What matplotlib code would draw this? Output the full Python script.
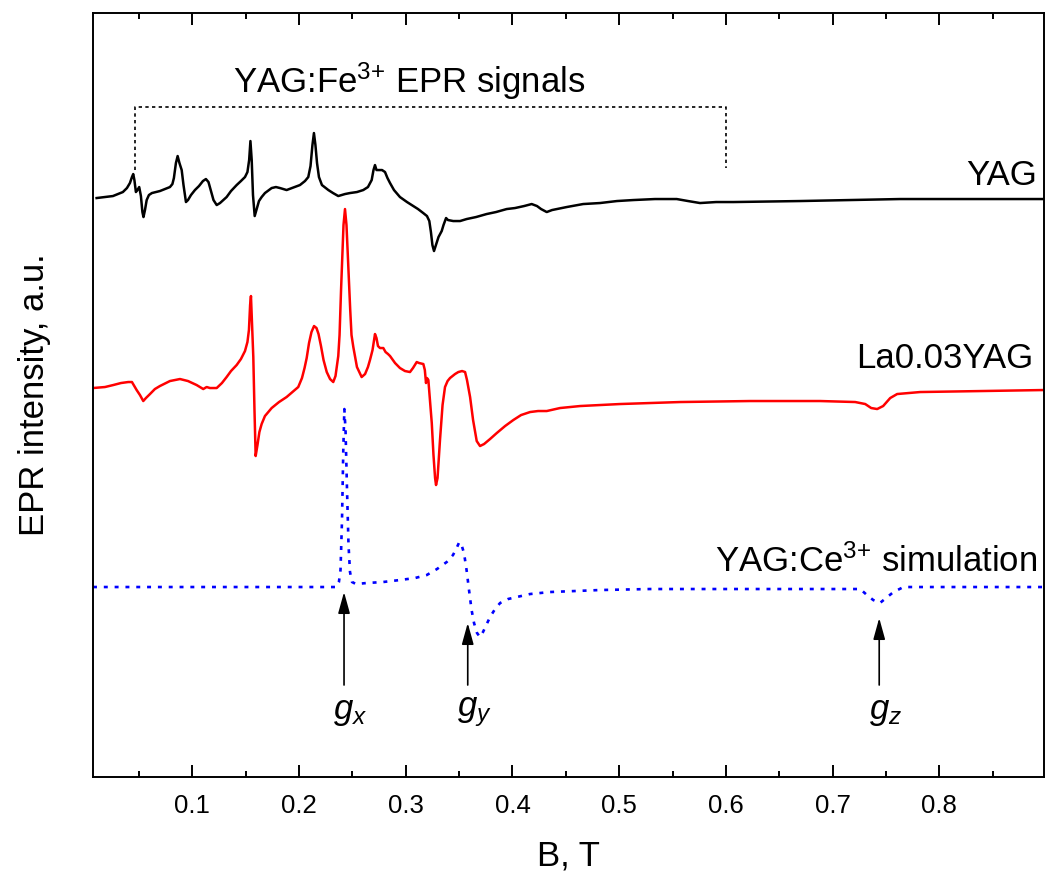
import matplotlib
matplotlib.use("Agg")
import matplotlib.pyplot as plt
from matplotlib.ticker import MultipleLocator

plt.rcParams["font.family"] = ["Liberation Sans", "DejaVu Sans"]
plt.rcParams["mathtext.fontset"] = "custom"
plt.rcParams["mathtext.rm"] = "Liberation Sans"
plt.rcParams["mathtext.it"] = "Liberation Sans:italic"

# magnetic field, T  /  EPR intensity, a.u. (traces already stacked)
b_yag = [0.0104, 0.0182, 0.0257, 0.0304, 0.0350, 0.0388, 0.0416, 0.0435, 0.0447, 0.0458,
         0.0472, 0.0486, 0.0503, 0.0519, 0.0533, 0.0543, 0.0557, 0.0573, 0.0594, 0.0622,
         0.0660, 0.0697, 0.0744, 0.0791, 0.0814, 0.0828, 0.0847, 0.0863, 0.0880, 0.0901,
         0.0918, 0.0941, 0.0960, 0.0988, 0.1025, 0.1063, 0.1100, 0.1128, 0.1152, 0.1175,
         0.1199, 0.1229, 0.1260, 0.1322, 0.1363, 0.1416, 0.1456, 0.1494, 0.1517, 0.1533,
         0.1545, 0.1557, 0.1569, 0.1585, 0.1601, 0.1625, 0.1650, 0.1681, 0.1744, 0.1784,
         0.1822, 0.1884, 0.1934, 0.2009, 0.2056, 0.2087, 0.2108, 0.2126, 0.2140, 0.2154,
         0.2169, 0.2187, 0.2215, 0.2275, 0.2319, 0.2368, 0.2431, 0.2478, 0.2543, 0.2602,
         0.2646, 0.2681, 0.2698, 0.2712, 0.2726, 0.2743, 0.2778, 0.2806, 0.2829, 0.2853,
         0.2890, 0.2946, 0.3012, 0.3071, 0.3115, 0.3164, 0.3199, 0.3221, 0.3236, 0.3250,
         0.3265, 0.3283, 0.3307, 0.3337, 0.3354, 0.3378, 0.3396, 0.3445, 0.3509, 0.3571,
         0.3659, 0.3758, 0.3846, 0.3946, 0.4024, 0.4109, 0.4180, 0.4230, 0.4268, 0.4321,
         0.4371, 0.4508, 0.4662, 0.4820, 0.4979, 0.5133, 0.5335, 0.5539, 0.5645, 0.5757,
         0.5908, 0.6070, 0.6694, 0.7631, 0.8980]
i_yag = [579, 580, 581, 583, 585, 589, 594, 600, 603, 597,
         585, 587, 590, 581, 565, 560, 567, 577, 582, 584,
         585, 586, 588, 590, 593, 599, 614, 621, 614, 607,
         592, 575, 577, 582, 587, 591, 596, 598, 595, 586,
         577, 572, 574, 580, 586, 592, 596, 600, 605, 617,
         636, 617, 582, 561, 567, 576, 580, 584, 589, 590,
         589, 587, 589, 592, 596, 600, 611, 632, 644, 632,
         614, 600, 592, 587, 584, 581, 583, 584, 585, 587,
         590, 597, 607, 612, 607, 607, 607, 605, 599, 594,
         587, 580, 575, 571, 568, 564, 561, 556, 545, 532,
         526, 532, 540, 546, 552, 559, 557, 556, 556, 558,
         560, 563, 565, 568, 569, 571, 573, 571, 568, 565,
         567, 570, 573, 574, 576, 577, 578, 578, 576, 574,
         575, 575, 576, 578, 578]

b_la = [0.0070, 0.0182, 0.0260, 0.0332, 0.0400, 0.0435, 0.0479, 0.0510, 0.0541, 0.0566,
        0.0604, 0.0650, 0.0697, 0.0791, 0.0885, 0.0960, 0.1041, 0.1103, 0.1135, 0.1166,
        0.1229, 0.1278, 0.1322, 0.1363, 0.1416, 0.1456, 0.1494, 0.1517, 0.1531, 0.1542,
        0.1550, 0.1559, 0.1572, 0.1583, 0.1594, 0.1611, 0.1629, 0.1650, 0.1681, 0.1744,
        0.1813, 0.1884, 0.1939, 0.1993, 0.2028, 0.2052, 0.2072, 0.2094, 0.2117, 0.2141,
        0.2164, 0.2183, 0.2206, 0.2230, 0.2260, 0.2291, 0.2321, 0.2342, 0.2356, 0.2368,
        0.2380, 0.2394, 0.2406, 0.2417, 0.2431, 0.2445, 0.2455, 0.2467, 0.2480, 0.2492,
        0.2509, 0.2543, 0.2587, 0.2619, 0.2646, 0.2665, 0.2689, 0.2703, 0.2712, 0.2726,
        0.2740, 0.2759, 0.2790, 0.2811, 0.2834, 0.2853, 0.2900, 0.2946, 0.2993, 0.3040,
        0.3068, 0.3103, 0.3125, 0.3165, 0.3179, 0.3190, 0.3199, 0.3212, 0.3223, 0.3244,
        0.3260, 0.3275, 0.3284, 0.3298, 0.3321, 0.3345, 0.3368, 0.3392, 0.3415, 0.3462,
        0.3493, 0.3528, 0.3556, 0.3574, 0.3603, 0.3631, 0.3665, 0.3696, 0.3734, 0.3790,
        0.3853, 0.3931, 0.4008, 0.4081, 0.4165, 0.4240, 0.4321, 0.4446, 0.4634, 0.5008,
        0.5571, 0.6227, 0.6883, 0.7211, 0.7305, 0.7361, 0.7417, 0.7473, 0.7539, 0.7604,
        0.7820, 0.8382, 0.8980]
i_la = [389, 390, 392, 394, 395, 395, 387, 382, 376, 379,
        383, 388, 391, 396, 398, 396, 392, 388, 390, 389,
        389, 394, 400, 406, 412, 418, 426, 435, 447, 472,
        481, 457, 420, 367, 321, 332, 345, 353, 361, 369,
        375, 380, 385, 390, 399, 409, 419, 434, 445, 451,
        449, 443, 431, 417, 405, 398, 395, 401, 412, 421,
        442, 487, 522, 552, 568, 552, 527, 497, 467, 442,
        430, 410, 400, 403, 410, 417, 427, 437, 443, 439,
        431, 429, 429, 425, 423, 421, 414, 409, 406, 405,
        409, 415, 414, 413, 407, 394, 399, 397, 382, 354,
        322, 299, 292, 299, 337, 372, 390, 396, 399, 403,
        405, 406, 405, 397, 380, 357, 336, 331, 333, 338,
        344, 351, 357, 362, 365, 366, 366, 369, 371, 373,
        375, 376, 376, 375, 373, 369, 368, 371, 379, 383,
        385, 386, 387]

b_sim = [0.0070, 0.2353, 0.2374, 0.2389, 0.2403, 0.2415, 0.2425, 0.2436, 0.2450, 0.2464,
         0.2478, 0.2497, 0.2534, 0.2634, 0.2787, 0.2946, 0.3087, 0.3197, 0.3293, 0.3384,
         0.3443, 0.3481, 0.3502, 0.3523, 0.3546, 0.3570, 0.3593, 0.3617, 0.3640, 0.3668,
         0.3696, 0.3724, 0.3759, 0.3790, 0.3837, 0.3884, 0.3959, 0.4040, 0.4165, 0.4352,
         0.4821, 0.5289, 0.7258, 0.7321, 0.7380, 0.7443, 0.7500, 0.7570, 0.7664, 0.8980]
i_sim = [190, 190, 195, 207, 257, 327, 368, 347, 287, 232,
         205, 195, 193, 194, 195, 197, 199, 202, 208, 215,
         222, 230, 235, 232, 224, 207, 187, 167, 154, 144,
         140, 145, 153, 160, 168, 174, 178, 180, 183, 185,
         187, 188, 188, 182, 177, 174, 179, 185, 190, 190]

g_labels = ["$g_x$", "$g_y$", "$g_z$"]
g_field = [0.2422, 0.3581, 0.7436]
g_tip = [185, 154, 159]

fig = plt.figure(figsize=(10.46, 8.76), dpi=100)
ax = fig.add_axes([0.0889, 0.1130, 0.9092, 0.8721])

ax.plot(b_yag, i_yag, color="black", lw=1.8)
ax.plot(b_la, i_la, color="red", lw=1.8)
ax.plot(b_sim, i_sim, color="blue", lw=1.9, linestyle=(0, (1.5, 2.6)))

# bracket over the Fe3+ lines
ax.plot([0.0463, 0.0463, 0.600, 0.600], [607, 670, 670, 609],
        color="black", lw=1.2, linestyle=(0, (2, 2)))
ax.text(0.138, 684, r"YAG:Fe$^{\text{3+}}$ EPR signals", fontsize=25, ha="left", va="baseline")

ax.text(0.8914, 592, "YAG", fontsize=25, ha="right", va="baseline")
ax.text(0.8880, 409, "La0.03YAG", fontsize=25, ha="right", va="baseline")
ax.text(0.8920, 205, r"YAG:Ce$^{\text{3+}}$ simulation", fontsize=25, ha="right", va="baseline")

for lab, bx, tip in zip(g_labels, g_field, g_tip):
    ax.annotate("", xy=(bx, tip), xytext=(bx, 92),
                arrowprops=dict(arrowstyle="-|>,head_length=0.65,head_width=0.18",
                                color="black", lw=1.2, shrinkA=0, shrinkB=0,
                                mutation_scale=20))
    ax.text(bx + 0.006, 82, lab, fontsize=25, ha="center", va="top")

ax.set_xlim(0.007, 0.898)
ax.set_ylim(0, 764)
ax.xaxis.set_major_locator(MultipleLocator(0.1))
ax.xaxis.set_minor_locator(MultipleLocator(0.05))
ax.set_yticks([])
ax.tick_params(axis="x", which="both", direction="in", top=True, labelsize=18.5, pad=12, width=1.4)
ax.tick_params(axis="x", which="major", length=8.6)
ax.tick_params(axis="x", which="minor", length=4.5)
for sp in ax.spines.values():
    sp.set_linewidth(1.4)

ax.set_xlabel("B, T", fontsize=25, labelpad=16)
ax.set_ylabel("EPR intensity, a.u.", fontsize=25, labelpad=30)

fig.savefig("out.png", dpi=100)
